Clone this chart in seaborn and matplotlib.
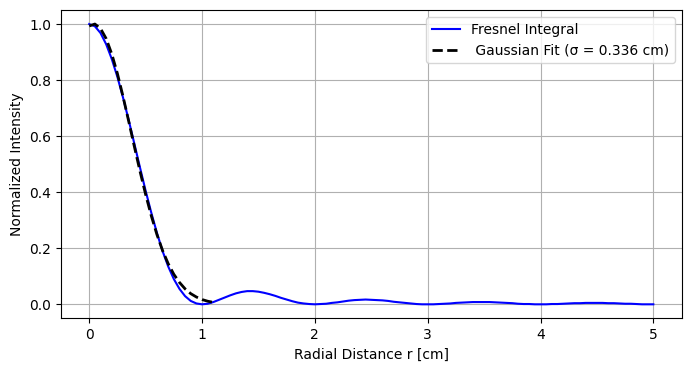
import matplotlib
matplotlib.use("Agg")
import matplotlib.pyplot as plt
import numpy as np
import pandas as pd
import seaborn as sns

# radial positions (cm), 0.05 cm steps
r_fresnel = np.round(np.arange(0, 101) * 0.05, 2)
# normalized intensity
intensity_fresnel = [
    1.000, 0.992, 0.968, 0.928, 0.875, 0.811, 0.737, 0.657, 0.573, 0.488,
    0.405, 0.327, 0.255, 0.190, 0.135, 0.090, 0.055, 0.029, 0.012, 0.003,
    0.000, 0.002, 0.008, 0.016, 0.024, 0.032, 0.039, 0.044, 0.047, 0.047,
    0.045, 0.041, 0.036, 0.030, 0.023, 0.017, 0.011, 0.006, 0.003, 0.001,
    0.000, 0.001, 0.002, 0.005, 0.007, 0.010, 0.013, 0.015, 0.016, 0.017,
    0.016, 0.015, 0.014, 0.012, 0.009, 0.007, 0.005, 0.003, 0.001, 0.000,
    0.000, 0.000, 0.001, 0.002, 0.003, 0.005, 0.006, 0.007, 0.008, 0.008,
    0.008, 0.008, 0.007, 0.006, 0.005, 0.004, 0.002, 0.001, 0.001, 0.000,
    0.000, 0.000, 0.001, 0.001, 0.002, 0.003, 0.004, 0.004, 0.005, 0.005,
    0.005, 0.005, 0.004, 0.004, 0.003, 0.002, 0.002, 0.001, 0.000, 0.000,
    0.000,
]

# gaussian fit, drawn only over the main lobe
r_gauss = np.round(np.arange(0, 23) * 0.05, 2)
intensity_gauss = [
    0.993, 1.000, 0.984, 0.948, 0.893, 0.823, 0.741, 0.653, 0.563, 0.475,
    0.392, 0.316, 0.249, 0.192, 0.145, 0.107, 0.078, 0.055, 0.038, 0.026,
    0.017, 0.011, 0.007,
]
sigma = 0.336

df_f = pd.DataFrame({"r": r_fresnel, "I": intensity_fresnel})
df_g = pd.DataFrame({"r": r_gauss, "I": intensity_gauss})

fig = plt.figure(figsize=(6.91, 3.71), dpi=100)
ax = fig.add_axes([0.0883, 0.142, 0.898, 0.831])

sns.lineplot(data=df_f, x="r", y="I", ax=ax, color="blue", linewidth=1.5,
             label="Fresnel Integral")
sns.lineplot(data=df_g, x="r", y="I", ax=ax, color="black", linewidth=2,
             linestyle="--", label=f" Gaussian Fit (σ = {sigma:.3f} cm)")

ax.set_xlabel("Radial Distance r [cm]")
ax.set_ylabel("Normalized Intensity")
ax.set_xlim(-0.25, 5.25)
ax.set_ylim(-0.05, 1.05)
ax.grid(True)
ax.legend(loc="upper right")

fig.savefig("out.png", dpi=100)
